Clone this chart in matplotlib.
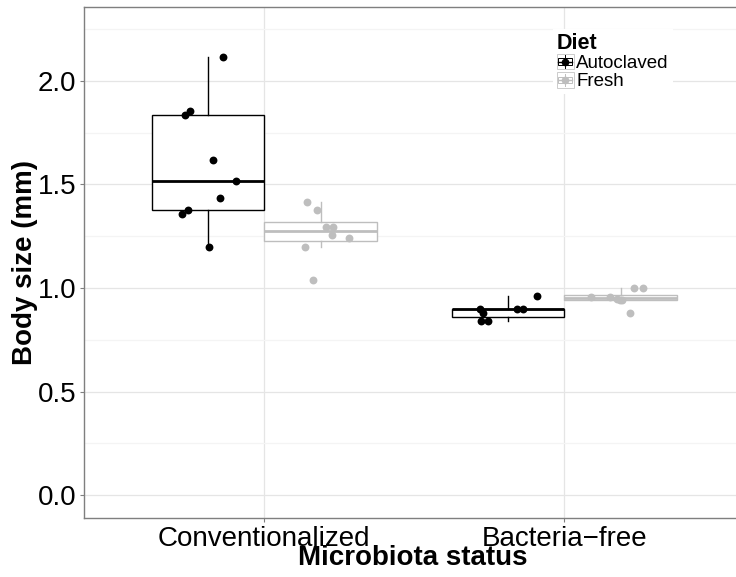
import numpy as np
import matplotlib.pyplot as plt
from matplotlib.lines import Line2D
from matplotlib.patches import Rectangle
from matplotlib.legend_handler import HandlerBase

plt.rcParams['font.family'] = ['Liberation Sans', 'DejaVu Sans']

# data
categories = ['Conventionalized', 'Bacteria\u2212free']
diets = ['Autoclaved', 'Fresh']
colors = ['black', '#bebebe']

conv_auto = [2.114, 1.855, 1.835, 1.616, 1.515, 1.436, 1.377, 1.358, 1.197]
conv_fresh = [1.417, 1.377, 1.296, 1.296, 1.258, 1.239, 1.197, 1.038]
free_auto = [0.901, 0.880, 0.839, 0.839, 0.900, 0.900, 0.959]
free_fresh = [0.958, 0.958, 0.949, 0.940, 0.940, 0.998, 0.998, 0.879]

# horizontal jitter of each point (x units)
conv_auto_jit = [0.051, -0.061, -0.076, 0.018, 0.094, 0.040, -0.068, -0.088, 0.003]
conv_fresh_jit = [-0.045, -0.011, 0.017, 0.041, 0.037, 0.095, -0.053, -0.026]
free_auto_jit = [-0.093, -0.084, -0.090, -0.068, 0.030, 0.050, 0.097]
free_fresh_jit = [-0.098, -0.034, -0.012, -0.003, 0.004, 0.044, 0.074, 0.031]

groups = [
    (0, 0, conv_auto, conv_auto_jit),
    (0, 1, conv_fresh, conv_fresh_jit),
    (1, 0, free_auto, free_auto_jit),
    (1, 1, free_fresh, free_fresh_jit),
]


class BoxKey(HandlerBase):
    # small boxplot glyph for the legend keys
    def create_artists(self, legend, orig_handle, xdescent, ydescent,
                       width, height, fontsize, trans):
        c = orig_handle.get_color()
        x0, y0 = -xdescent, -ydescent
        frame = Rectangle((x0, y0), width, height, facecolor='white',
                          edgecolor='#cccccc', lw=0.7, transform=trans)
        whisk = Line2D([x0 + width / 2] * 2, [y0 + 0.1 * height, y0 + 0.9 * height],
                       color=c, lw=0.7, transform=trans)
        box = Rectangle((x0 + 0.1 * width, y0 + 0.3 * height), 0.8 * width, 0.4 * height,
                        facecolor='white', edgecolor=c, lw=0.7, transform=trans)
        med = Line2D([x0 + 0.1 * width, x0 + 0.9 * width], [y0 + height / 2] * 2,
                     color=c, lw=1.0, transform=trans)
        dot = Line2D([x0 + width / 2], [y0 + height / 2], marker='o', ms=4.5,
                     color=c, ls='none', transform=trans)
        return [frame, whisk, box, med, dot]


fig = plt.figure(figsize=(7.36, 5.77), dpi=100)
ax = fig.add_axes([84.3 / 736, 1 - 518.3 / 577, 660 / 736, 511 / 577])

dodge = 0.1875
for ci, di, vals, jit in groups:
    pos = ci + 1 + (dodge if di else -dodge)
    c = colors[di]
    ax.boxplot([vals], positions=[pos], widths=0.375, whis=1.5,
               showcaps=False, showfliers=False, patch_artist=True,
               boxprops=dict(facecolor='white', edgecolor=c, linewidth=1.0),
               medianprops=dict(color=c, linewidth=2.0),
               whiskerprops=dict(color=c, linewidth=1.0), zorder=2)
    ax.scatter(pos + np.array(jit), vals, s=32, color=c, linewidths=0, zorder=3)

ax.set_xlim(0.4, 2.6)
ax.set_ylim(-0.111, 2.354)
ax.set_xticks([1, 2])
ax.set_xticklabels(categories)
ax.set_yticks([0, 0.5, 1.0, 1.5, 2.0])
ax.set_yticklabels(['0.0', '0.5', '1.0', '1.5', '2.0'])
ax.set_yticks([0.25, 0.75, 1.25, 1.75, 2.25], minor=True)

ax.set_axisbelow(True)
ax.grid(which='major', color='#e5e5e5', lw=0.9)
ax.grid(which='minor', axis='y', color='#f4f4f4', lw=0.9)

for side in ['left', 'top', 'bottom']:
    ax.spines[side].set_color('#7f7f7f')
    ax.spines[side].set_linewidth(1.0)
ax.spines['right'].set_visible(False)

ax.tick_params(axis='both', which='major', length=2.6, width=0.8,
               color='#7f7f7f', labelsize=20, pad=3, labelcolor='black')
ax.tick_params(which='minor', length=0)

fig.text(413 / 736, 1 - 558 / 577, 'Microbiota status', fontsize=20,
         fontweight='bold', ha='center', va='center')
fig.text(25 / 736, 1 - 263 / 577, 'Body size (mm)', fontsize=20,
         fontweight='bold', ha='center', va='center', rotation=90)

handles = [Line2D([], [], color=c) for c in colors]
leg = ax.legend(handles, diets, title='Diet', loc='upper left',
                bbox_to_anchor=(553 / 736, 1 - 29 / 577),
                bbox_transform=fig.transFigure,
                handler_map={Line2D: BoxKey()}, fontsize=13.5,
                title_fontproperties={'weight': 'bold', 'size': 15.5},
                handlelength=0.9, handleheight=0.9, handletextpad=0.15,
                labelspacing=0.0, borderpad=0.2, borderaxespad=0,
                alignment='left', framealpha=1)
leg.get_frame().set_edgecolor('none')
leg.get_frame().set_facecolor('white')
leg.get_frame().set_boxstyle('square', pad=0)

fig.savefig('out.png', dpi=100)
